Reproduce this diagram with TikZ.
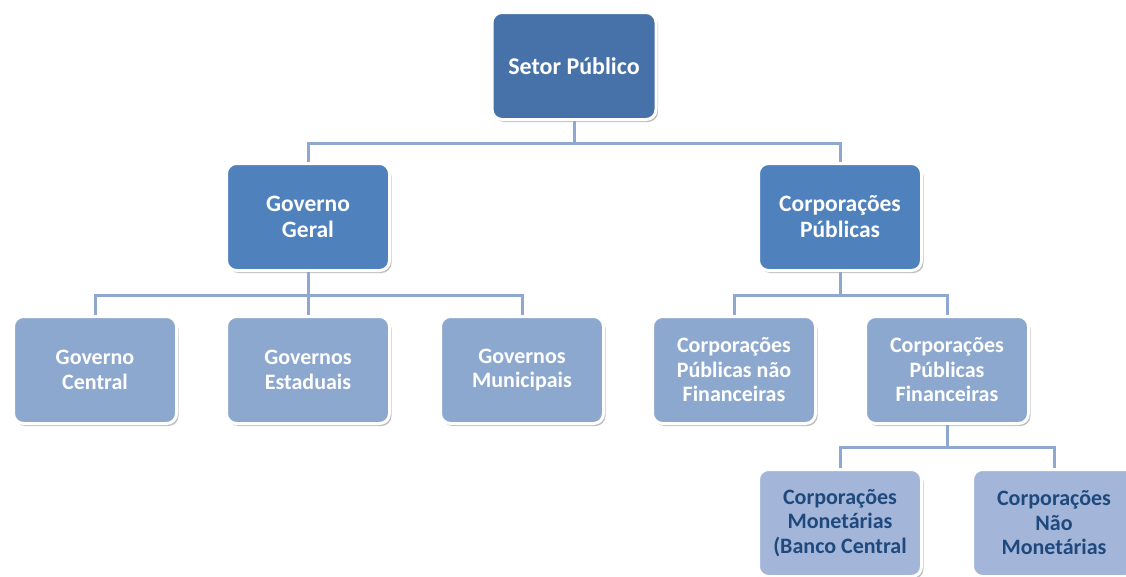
\documentclass[tikz,border=0pt]{standalone}
\usepackage{fontspec}
\setmainfont{Carlito}
\usetikzlibrary{shadows}
\definecolor{c1}{HTML}{4672A9}
\definecolor{c2}{HTML}{4F81BD}
\definecolor{c3}{HTML}{8DA8CF}
\definecolor{c4}{HTML}{A3B6D9}
\definecolor{tx4}{HTML}{1F497D}
\definecolor{ln}{HTML}{8FA8D0}
\tikzset{
  box/.style={rectangle, rounded corners=10pt, draw=white, line width=3pt,
    minimum width=163pt, minimum height=107pt, inner sep=0pt, align=center,
    font=\bfseries, text=white,
    drop shadow={shadow xshift=2pt, shadow yshift=-2.5pt, fill=black, opacity=0.25}},
  lvA/.style={box, fill=c1, font=\fontsize{24}{27}\selectfont\bfseries},
  lvB/.style={box, fill=c2, font=\fontsize{23.5}{26}\selectfont\bfseries},
  lvC/.style={box, fill=c3, font=\fontsize{22}{24.5}\selectfont\bfseries},
  lvD/.style={box, fill=c4, text=tx4, font=\fontsize{22}{24.5}\selectfont\bfseries},
  conn/.style={draw=ln, line width=3pt}
}
\begin{document}
\begin{tikzpicture}[x=1pt,y=-1pt]
\useasboundingbox (0,0) rectangle (1126,576);
\clip (0,0) rectangle (1126,576);
\fill[white] (0,0) rectangle (1126,576);
% junction coordinates
\coordinate (j1) at (574,143);
\coordinate (j2) at (308,295);
\coordinate (j3) at (840,295);
\coordinate (j4) at (947,447);
% nodes
\node[lvA, minimum width=164pt] (top) at (574,66) {Setor Público};
\node[lvB] (gg) at (308,217) {Governo\\Geral};
\node[lvB] (cp) at (840,217) {Corporações\\Públicas};
\node[lvC] (gc) at (95,370) {Governo\\Central};
\node[lvC] (ge) at (308,370) {Governos\\Estaduais};
\node[lvC] (gm) at (522,370) {Governos\\Municipais};
\node[lvC] (cpnf) at (734,370) {Corporações\\Públicas não\\Financeiras};
\node[lvC] (cpf) at (947,370) {Corporações\\Públicas\\Financeiras};
\node[lvD] (cm) at (840,523) {Corporações\\Monetárias\\(Banco Central};
\node[lvD] (cnm) at (1054,523) {Corporações\\Não\\Monetárias};
% connectors
\path[conn] (top.south) -- (j1) -| (gg.north);
\path[conn] (j1) -| (cp.north);
\path[conn] (gg.south) -- (j2) -| (gc.north);
\path[conn] (j2) -| (gm.north);
\path[conn] (j2) -- (ge.north);
\path[conn] (cp.south) -- (j3) -| (cpnf.north);
\path[conn] (j3) -| (cpf.north);
\path[conn] (cpf.south) -- (j4) -| (cm.north);
\path[conn] (j4) -| (cnm.north);
\end{tikzpicture}
\end{document}
